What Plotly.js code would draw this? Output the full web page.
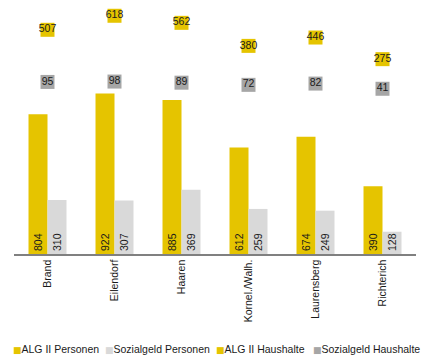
<!DOCTYPE html>
<html>
<head>
<meta charset="utf-8">
<script src="https://cdn.plot.ly/plotly-3.0.1.min.js"></script>
<style>html,body{margin:0;padding:0;background:#fff;}#chart{width:424px;height:358px;}</style>
</head>
<body>
<div id="chart"></div>
<script>
const categories = ["Brand", "Eilendorf", "Haaren", "Kornel./Walh.", "Laurensberg", "Richterich"];
const algPersonen = [804, 922, 885, 612, 674, 390];
const sozPersonen = [310, 307, 369, 259, 249, 128];
const algHaushalte = [507, 618, 562, 380, 446, 275];
const sozHaushalte = [95, 98, 89, 72, 82, 41];
const seriesNames = ["ALG II Personen", "Sozialgeld Personen", "ALG II Haushalte", "Sozialgeld Haushalte"];

const YELLOW = "#e5c400";
const LIGHTGRAY = "#d9d9d9";
const DARKGRAY = "#a6a6a6";
const TXT = "#1a1a1a";
const FONT = "Liberation Sans, Arial, sans-serif";

const barCommon = {
  type: "bar",
  x: categories,
  textposition: "inside",
  insidetextanchor: "start",
  textangle: -90,
  constraintext: "none",
  textfont: {family: FONT, size: 10.5, color: TXT},
  showlegend: false,
  hoverinfo: "skip"
};

const traces = [
  Object.assign({}, barCommon, {name: seriesNames[0], y: algPersonen, text: algPersonen.map(String), marker: {color: YELLOW}}),
  Object.assign({}, barCommon, {name: seriesNames[1], y: sozPersonen, text: sozPersonen.map(String), marker: {color: LIGHTGRAY}}),
  {type: "scatter", mode: "markers+text", name: seriesNames[2], x: categories, y: algHaushalte, yaxis: "y2",
   text: algHaushalte.map(String), textposition: "middle center",
   textfont: {family: FONT, size: 10.5, color: TXT},
   marker: {symbol: "square", size: 14, color: YELLOW}, showlegend: false, hoverinfo: "skip"},
  {type: "scatter", mode: "markers+text", name: seriesNames[3], x: categories, y: sozHaushalte, yaxis: "y2",
   text: sozHaushalte.map(String), textposition: "middle center",
   textfont: {family: FONT, size: 10.5, color: TXT},
   marker: {symbol: "square", size: 14, color: DARKGRAY}, showlegend: false, hoverinfo: "skip"}
];

// legend entries: one legend per entry, coloured square drawn as part of the entry text
const legendColors = [YELLOW, LIGHTGRAY, YELLOW, DARKGRAY];
const legendIds = ["legend", "legend2", "legend3", "legend4"];
const legendSymbolX = [13, 105, 216, 313];
seriesNames.forEach((n, i) => {
  traces.push({type: "scatter", mode: "markers",
    name: '<span style="color:' + legendColors[i] + ';font-family:DejaVu Sans;font-size:9px">■</span>' + n,
    x: [categories[0]], y: [null],
    marker: {symbol: "square", size: 1, opacity: 0, color: legendColors[i]},
    legend: legendIds[i], showlegend: true, hoverinfo: "skip"});
});

const W = 424, H = 358;
const ML = 14, MR = 8, MT = 4, MB = 104;
const PW = W - ML - MR, PH = H - MT - MB;
const layout = {
  width: W, height: H,
  margin: {l: ML, r: MR, t: MT, b: MB, autoexpand: false},
  paper_bgcolor: "#ffffff",
  plot_bgcolor: "#ffffff",
  font: {family: FONT, size: 10.5, color: TXT},
  barmode: "group",
  bargap: 0.433,
  bargroupgap: 0,
  xaxis: {
    type: "category",
    range: [-0.5, categories.length - 0.5],
    showline: true, linecolor: "#808080", linewidth: 1.5,
    ticks: "", tickangle: -90,
    tickfont: {family: FONT, size: 10.5, color: TXT},
    showgrid: false, zeroline: false, fixedrange: true
  },
  yaxis: {range: [0, 1437], visible: false, showgrid: false, zeroline: false, fixedrange: true},
  yaxis2: {range: [-1265, 711], overlaying: "y", visible: false, showgrid: false, zeroline: false, fixedrange: true},
  showlegend: true
};
legendIds.forEach((id, i) => {
  layout[id] = {
    xref: "paper", yref: "paper",
    x: (legendSymbolX[i] - 40 - ML) / PW, xanchor: "left",
    y: (H - MB - 349) / PH, yanchor: "middle",
    bgcolor: "rgba(0,0,0,0)", borderwidth: 0,
    font: {family: FONT, size: 10.5, color: TXT}
  };
});

Plotly.newPlot("chart", traces, layout, {displayModeBar: false, staticPlot: true});
</script>
</body>
</html>
